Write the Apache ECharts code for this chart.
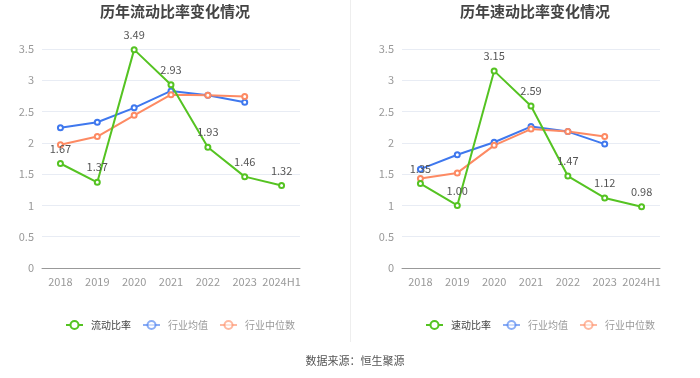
<!DOCTYPE html>
<html><head><meta charset="utf-8">
<script src="https://cdn.jsdelivr.net/npm/echarts@6/dist/echarts.min.js"></script>
<style>html,body{margin:0;padding:0;background:#fff;}#c{width:700px;height:378px;}</style>
</head><body><div id="c"></div>
<script>
const categories = ['2018','2019','2020','2021','2022','2023','2024H1'];
const currentRatio = [1.67, 1.37, 3.49, 2.93, 1.93, 1.46, 1.32];
const currentIndAvg = [2.24, 2.33, 2.56, 2.83, 2.76, 2.65];
const currentIndMed = [1.97, 2.10, 2.44, 2.77, 2.76, 2.74];
const quickRatio = [1.35, 1.00, 3.15, 2.59, 1.47, 1.12, 0.98];
const quickIndAvg = [1.58, 1.81, 2.01, 2.26, 2.18, 1.98];
const quickIndMed = [1.43, 1.52, 1.96, 2.22, 2.18, 2.10];
const yTicks = [0, 0.5, 1, 1.5, 2, 2.5, 3, 3.5];
const titles = ['历年流动比率变化情况', '历年速动比率变化情况'];
const names = [['流动比率','行业均值','行业中位数'], ['速动比率','行业均值','行业中位数']];
const sourceText = '数据来源：恒生聚源';

const GREEN = '#55c322', BLUE = '#3f78ee', ORANGE = '#fd8a63';
const FONT = '"Noto Sans CJK SC", "Noto Sans", sans-serif';
const chart = echarts.init(document.getElementById('c'));

const grids = [
  {left: 42, right: 400, top: 49, bottom: 110},
  {left: 402, right: 40, top: 49, bottom: 110}
];
function xAxis(i){return {type:'category', gridIndex:i, data:categories, boundaryGap:true,
  axisLine:{lineStyle:{color:'#999'}}, axisTick:{alignWithLabel:true, lineStyle:{color:'#999'}},
  axisLabel:{color:'#999', fontSize:11, margin:8, interval:0, fontFamily:FONT}};}
function yAxis(i){return {type:'value', gridIndex:i, min:yTicks[0], max:yTicks[yTicks.length-1], interval:0.5,
  axisLine:{show:false}, axisTick:{show:false},
  axisLabel:{color:'#999', fontSize:11, margin:8, fontFamily:FONT, formatter: v => String(v)},
  splitLine:{lineStyle:{color:'#e8ecf4'}}};}
function line(name, data, color, i, label){
  return {type:'line', name, data, xAxisIndex:i, yAxisIndex:i, symbol:'emptyCircle', symbolSize:5,
    lineStyle:{color, width:2}, itemStyle:{color}, z: label?3:2,
    label: label ? {show:true, position:'top', color:'#555', fontSize:11, fontFamily:FONT, distance:6,
      formatter: p => p.value.toFixed(2)} : {show:false}};
}
function legend(i, left){
  return {top: 315, left: left, itemWidth: 17, itemHeight: 10, itemGap: 11,
    textStyle:{fontSize:10, fontFamily:FONT, color:'#999', padding:[0,0,0,3]},
    data:[
      {name:names[i][0], textStyle:{color:'#444'}},
      {name:names[i][1], itemStyle:{opacity:0.6}, lineStyle:{opacity:0.6}},
      {name:names[i][2], itemStyle:{opacity:0.6}, lineStyle:{opacity:0.6}}
    ]};
}
chart.setOption({
  animation:false,
  title:[
    {text:titles[0], left:170, textAlign:'center', top:-1, textStyle:{fontSize:15, fontWeight:'bold', color:'#444', fontFamily:FONT}},
    {text:titles[1], left:530, textAlign:'center', top:-1, textStyle:{fontSize:15, fontWeight:'bold', color:'#444', fontFamily:FONT}},
    {text:sourceText, left:350, textAlign:'center', top:350, textStyle:{fontSize:11, fontWeight:'normal', color:'#555', fontFamily:FONT}}
  ],
  grid: grids,
  xAxis:[xAxis(0), xAxis(1)],
  yAxis:[yAxis(0), yAxis(1)],
  legend:[legend(0,60), legend(1,420)],
  series:[
    line(names[0][0], currentRatio, GREEN, 0, true),
    line(names[0][1], currentIndAvg, BLUE, 0, false),
    line(names[0][2], currentIndMed, ORANGE, 0, false),
    line(names[1][0], quickRatio, GREEN, 1, true),
    line(names[1][1], quickIndAvg, BLUE, 1, false),
    line(names[1][2], quickIndMed, ORANGE, 1, false)
  ],
  graphic:[{type:'line', shape:{x1:350.5, y1:0, x2:350.5, y2:342}, style:{stroke:'#eee', lineWidth:1}}]
});
</script></body></html>
